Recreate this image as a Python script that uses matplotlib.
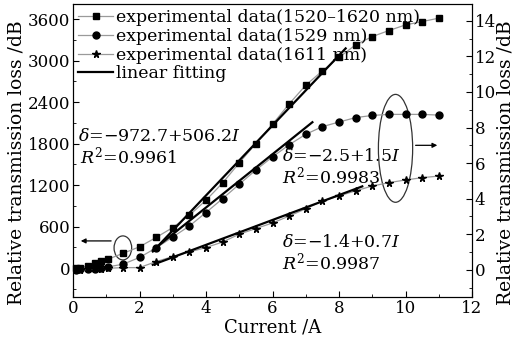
import matplotlib
matplotlib.use('Agg')
import matplotlib.pyplot as plt
from matplotlib.patches import Ellipse
from matplotlib.ticker import MultipleLocator

plt.rcParams['font.family'] = 'DejaVu Serif'
plt.rcParams['mathtext.fontset'] = 'dejavuserif'
plt.rcParams['font.size'] = 11

# data
current_low = [0.1, 0.2, 0.45, 0.65, 0.85, 1.05]
current_high = [1.5, 2.0, 2.5, 3.0, 3.5, 4.0, 4.5, 5.0, 5.5, 6.0, 6.5, 7.0,
                7.5, 8.0, 8.5, 9.0, 9.5, 10.0, 10.5, 11.0]
current = current_low + current_high

loss_broad = [0, 10, 35, 72, 106, 130, 215, 310, 445, 588, 766, 983, 1233,
              1523, 1803, 2082, 2375, 2646, 2853, 3047, 3230, 3349, 3436,
              3518, 3566, 3615]
loss_1529 = [0.0, 0.02, 0.05, 0.07, 0.12, 0.16, 0.31, 0.69, 1.23, 1.84, 2.46,
             3.22, 4.0, 4.81, 5.61, 6.35, 7.03, 7.62, 8.05, 8.31, 8.56, 8.68,
             8.74, 8.74, 8.74, 8.7]
loss_1611 = [0.0, 0.0, 0.02, 0.04, 0.06, 0.08, 0.12, 0.12, 0.46, 0.74, 1.0,
             1.25, 1.56, 2.0, 2.32, 2.63, 3.02, 3.43, 3.87, 4.15, 4.44, 4.71,
             4.9, 5.05, 5.18, 5.27]

labels = ['experimental data(1520\u20131620 nm)', 'experimental data(1529 nm)',
          'experimental data(1611 nm)', 'linear fitting']

# linear fits: intercept, slope, fit range
fit_broad = (-972.7, 506.2, 2.4, 8.2)
fit_1529 = (-2.5, 1.5, 2.4, 7.2)
fit_1611 = (-1.4, 0.7, 2.4, 8.7)

MINUS = '\u2212'

fig = plt.figure(figsize=(5.18, 3.46), dpi=100)
ax = fig.add_axes([73 / 518, 48.7 / 346, 399 / 518, 293.3 / 346])
ax2 = ax.twinx()

gray = '#9a9a9a'
h1, = ax.plot(current, loss_broad, '-', color=gray, lw=0.9, marker='s',
              ms=4.8, mfc='black', mec='black', clip_on=False)
h2, = ax2.plot(current, loss_1529, '-', color=gray, lw=0.9, marker='o',
               ms=5, mfc='black', mec='black')
h3, = ax2.plot(current, loss_1611, '-', color=gray, lw=0.9, marker='*',
               ms=5.5, mfc='black', mec='black')

def fit_line(axis, fit):
    b, k, x0, x1 = fit
    return axis.plot([x0, x1], [b + k * x0, b + k * x1], '-', color='black', lw=1.6)[0]

h4 = fit_line(ax, fit_broad)
fit_line(ax2, fit_1529)
fit_line(ax2, fit_1611)

ax.set_xlim(0, 12)
ax.set_ylim(-420, 3820)
ax2.set_ylim(-1.55, 14.95)
ax.xaxis.set_major_locator(MultipleLocator(2))
ax.xaxis.set_minor_locator(MultipleLocator(1))
ax.yaxis.set_major_locator(MultipleLocator(600))
ax.yaxis.set_minor_locator(MultipleLocator(300))
ax2.yaxis.set_major_locator(MultipleLocator(2))
ax2.yaxis.set_minor_locator(MultipleLocator(1))
ax.set_yticks(range(0, 3601, 600))
ax2.set_yticks(range(0, 15, 2))

for a in (ax, ax2):
    a.tick_params(which='both', direction='in', labelsize=12, pad=2)
    a.tick_params(which='major', length=4)
    a.tick_params(which='minor', length=2.5)
ax.tick_params(top=False, which='both')

ax.set_xlabel('Current /A', fontsize=13, labelpad=1)
ax.set_ylabel('Relative transmission loss /dB', fontsize=13.5)
ax2.set_ylabel('Relative transmission loss /dB', fontsize=13.5)
ax.yaxis.set_label_coords(-0.12, 0.46)
ax2.yaxis.set_label_coords(1.062, 0.46)

fs = 12.5
ax.text(0.15, 1899, r'$\delta$=' + MINUS + r'972.7+506.2$I$', va='center', ha='left', fontsize=fs)
ax.text(0.2, 1609, r'$R^2$=0.9961', va='center', ha='left', fontsize=fs)
ax.text(6.3, 1609, r'$\delta$=' + MINUS + r'2.5+1.5$I$', va='center', ha='left', fontsize=fs)
ax.text(6.3, 1320, r'$R^2$=0.9983', va='center', ha='left', fontsize=fs)
ax.text(6.3, 366, r'$\delta$=' + MINUS + r'1.4+0.7$I$', va='center', ha='left', fontsize=fs)
ax.text(6.3, 77, r'$R^2$=0.9987', va='center', ha='left', fontsize=fs)

ax.add_patch(Ellipse((1.5, 294), 0.53, 347, fill=False, ec='#333333', lw=0.9))
ax.annotate('', xy=(0.15, 395), xytext=(1.23, 395),
            arrowprops=dict(arrowstyle='-|>', color='black', lw=0.9,
                            mutation_scale=7))
ax2.add_patch(Ellipse((9.7, 6.83), 1.03, 6.07, fill=False, ec='#333333', lw=0.9))
ax2.annotate('', xy=(11.04, 7.0), xytext=(10.22, 7.0),
             arrowprops=dict(arrowstyle='-|>', color='black', lw=0.9,
                             mutation_scale=7))

ax2.legend([h1, h2, h3, h4], labels, loc='upper left', frameon=False,
           fontsize=12.5, numpoints=1, handlelength=2.0, handletextpad=0.2,
           labelspacing=0.1, borderaxespad=0.15, borderpad=0.15)

fig.savefig('out.png', dpi=100)
plt.close(fig)
